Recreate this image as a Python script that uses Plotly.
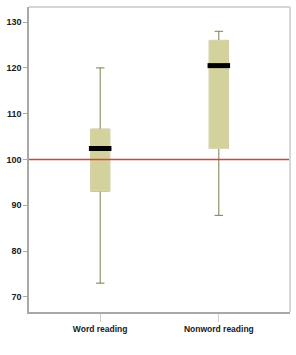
import plotly.graph_objects as go

categories = ["Word reading", "Nonword reading"]
lower_whisker = [73.0, 87.8]
q1_values = [93.1, 102.4]
median_values = [102.4, 120.5]
q3_values = [106.6, 126.0]
upper_whisker = [120.0, 128.0]
reference_value = 100
y_ticks = [70, 80, 90, 100, 110, 120, 130]

box_fill = "#d4d29c"
box_edge = "#dadab0"
whisker_col = "#7d7d50"
box_w = 0.16

fig = go.Figure()
xs = list(range(len(categories)))

for i in xs:
    fig.add_trace(go.Box(
        x=[i], q1=[q1_values[i]], median=[median_values[i]], q3=[q3_values[i]],
        lowerfence=[lower_whisker[i]], upperfence=[upper_whisker[i]],
        width=box_w, whiskerwidth=0.45, fillcolor=box_fill,
        line=dict(color=whisker_col, width=1), boxpoints=False,
        showlegend=False, hoverinfo="skip"))
    fig.add_trace(go.Box(
        x=[i], q1=[q1_values[i]], median=[median_values[i]], q3=[q3_values[i]],
        lowerfence=[q1_values[i]], upperfence=[q3_values[i]],
        width=box_w, whiskerwidth=0, fillcolor=box_fill,
        line=dict(color=box_edge, width=1), boxpoints=False,
        showlegend=False, hoverinfo="skip"))
    fig.add_trace(go.Scatter(
        x=[i - 0.095, i + 0.095], y=[median_values[i]] * 2, mode="lines",
        line=dict(color="black", width=5), showlegend=False, hoverinfo="skip"))

fig.add_shape(type="line", xref="paper", yref="y", x0=0, x1=1,
              y0=reference_value, y1=reference_value, layer="above",
              line=dict(color="#dc4238", width=1.3))
fig.add_shape(type="line", xref="paper", yref="paper", x0=0, x1=1, y0=1, y1=1,
              line=dict(color="#d6d6d6", width=2))
fig.add_shape(type="line", xref="paper", yref="paper", x0=1, x1=1, y0=0, y1=1,
              line=dict(color="#d6d6d6", width=2))

font_family = "Liberation Sans, Arial, sans-serif"
x_font = dict(family=font_family, size=8.5, color="#1a1a1a", weight="bold")
y_font = dict(family=font_family, size=9, color="#1a1a1a", weight="bold")
fig.update_layout(
    width=296, height=355,
    margin=dict(l=29, r=6, t=7, b=43),
    paper_bgcolor="white", plot_bgcolor="white",
    font=dict(family=font_family, size=9, color="#1a1a1a"),
    xaxis=dict(range=[-0.6, 1.6], tickvals=xs, ticktext=categories,
               showgrid=False, zeroline=False, showline=True,
               linecolor="#a8a8a8", linewidth=1.5, ticks="outside",
               ticklen=8, tickcolor="#d0d0d0", tickfont=x_font),
    yaxis=dict(range=[66.7, 133.3], tickvals=y_ticks,
               showgrid=False, zeroline=False, showline=True,
               linecolor="#a8a8a8", linewidth=1.5, ticks="outside",
               ticklen=4, tickcolor="#a8a8a8", tickfont=y_font),
)

fig.write_html("out.html")
